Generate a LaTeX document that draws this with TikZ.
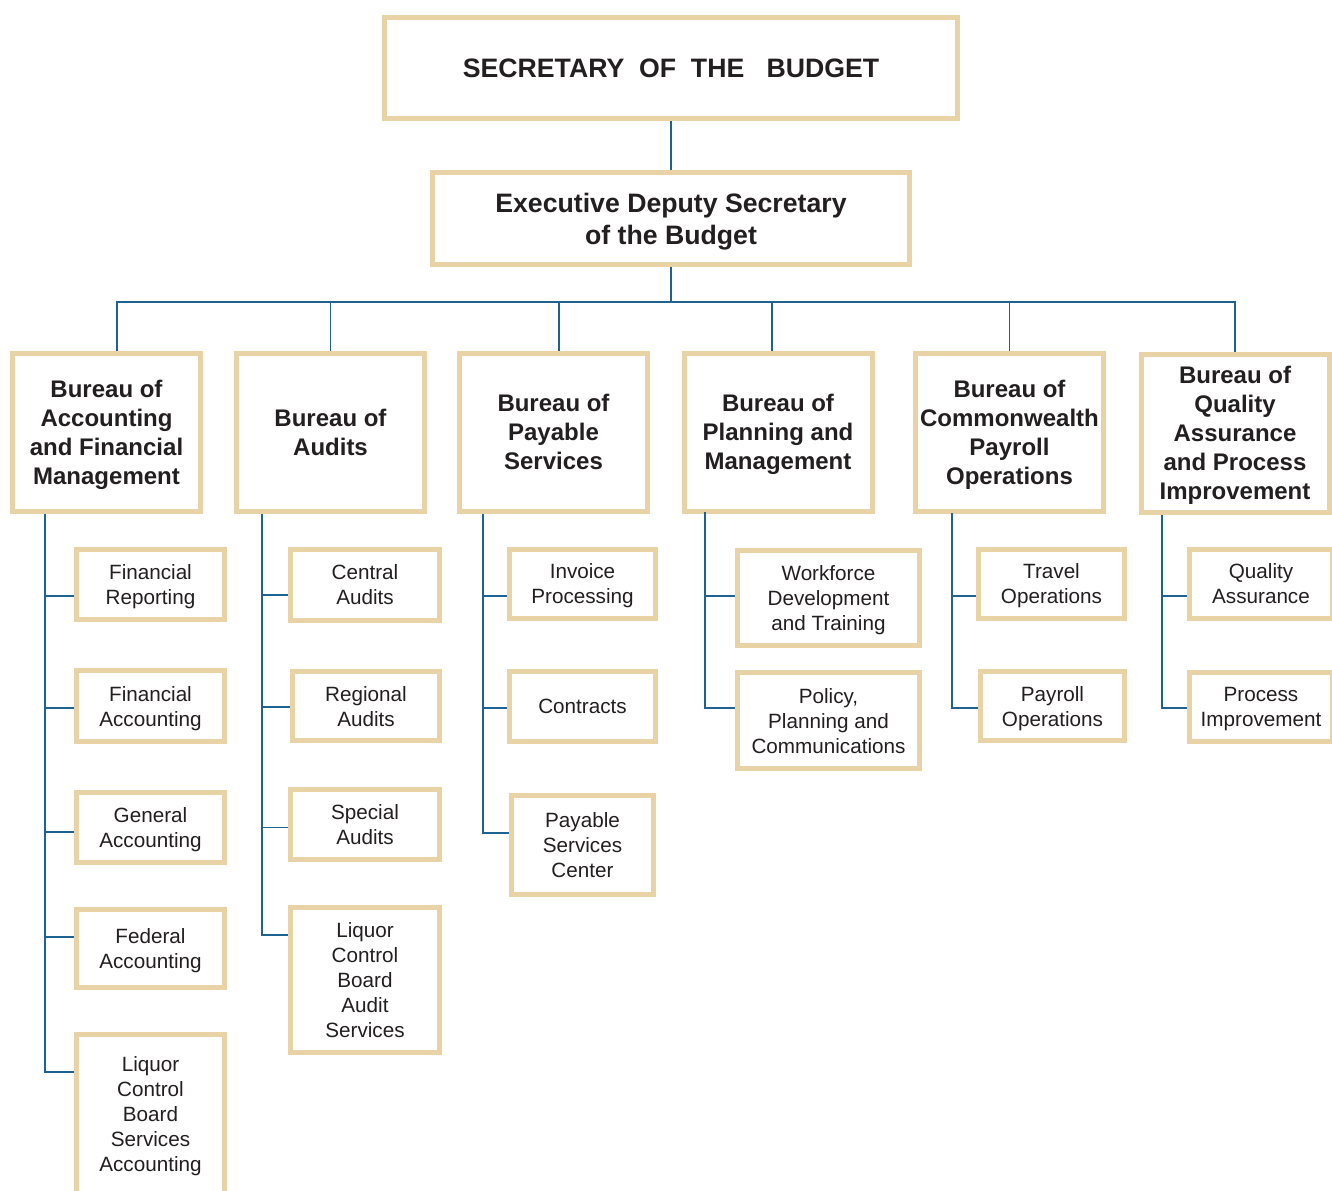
\documentclass[tikz,border=0pt]{standalone}
\usepackage{fontspec}
\setmainfont{Liberation Sans}
\usetikzlibrary{positioning}
\definecolor{wheat}{RGB}{233, 211, 166}
\definecolor{branchblue}{RGB}{30, 98, 146}
\definecolor{inkblack}{RGB}{35, 31, 32}

\begin{document}
\begin{tikzpicture}[x=0.75pt, y=-0.75pt,
        office/.style={draw=wheat, line width=3.75pt, fill=white, text=inkblack, align=center, inner sep=0pt, text depth=-1pt},
        bureau/.style={office, minimum width=141pt, minimum height=118.5pt, font=\fontsize{18}{21.75}\selectfont\bfseries},
        unit/.style={office, font=\fontsize{15.5}{18.75}\selectfont},
        link/.style={draw=branchblue, line width=1.1pt}]
            % Frame to fix the page size:
            \useasboundingbox                                             (0, 0) rectangle (1332, 1190);
            % Top of the chart:
            \node[office, minimum width=429.75pt, minimum height=75.75pt, text depth=-3pt, font=\fontsize{20}{24}\selectfont\bfseries]
                 (sec) at (671, 68)    {SECRETARY\ \ OF\ \ THE\ \ \ BUDGET};
            \node[office, minimum width=357.75pt, minimum height=69pt, font=\fontsize{20}{24}\selectfont\bfseries]
                 (eds) at (671, 218.5) {Executive Deputy Secretary\\of the Budget};
            % Bureaus:
            \node[bureau] (bafm) at ( 106.5, 432) {Bureau of\\Accounting\\and Financial\\Management};
            \node[bureau] (ba)   at ( 330.5, 432) {Bureau of\\Audits};
            \node[bureau] (bps)  at ( 553.5, 432) {Bureau of\\Payable\\Services};
            \node[bureau] (bpm)  at ( 778.0, 432) {Bureau of\\Planning and\\Management};
            \node[bureau] (bcpo) at (1009.5, 432) {Bureau of\\Commonwealth\\Payroll\\Operations};
            \node[bureau] (bqa)  at (1235.0, 433) {Bureau of\\Quality\\Assurance\\and Process\\Improvement};
            % Divisions:
            \node[unit, minimum width=111pt,    minimum height=52.5pt]   (fr)    at ( 150.5, 584.5) {Financial\\Reporting};
            \node[unit, minimum width=111pt,    minimum height=53.25pt]  (fa)    at ( 150.5, 706)   {Financial\\Accounting};
            \node[unit, minimum width=111pt,    minimum height=52.5pt]   (ga)    at ( 150.5, 827.5) {General\\Accounting};
            \node[unit, minimum width=111pt,    minimum height=58.5pt]   (fda)   at ( 150.5, 948.5) {Federal\\Accounting};
            \node[unit, minimum width=111pt,    minimum height=119.25pt] (lcbsa) at ( 150.5, 1114)  {Liquor\\Control\\Board\\Services\\Accounting};
            \node[unit, minimum width=111.75pt, minimum height=53.25pt]  (ca)    at ( 365,   585)   {Central\\Audits};
            \node[unit, minimum width=110.25pt, minimum height=51.75pt]  (ra)    at ( 366,   706)   {Regional\\Audits};
            \node[unit, minimum width=111.75pt, minimum height=52.5pt]   (sa)    at ( 365,   824.5) {Special\\Audits};
            \node[unit, minimum width=111.75pt, minimum height=108.75pt] (lcbas) at ( 365,   980)   {Liquor\\Control\\Board\\Audit\\Services};
            \node[unit, minimum width=109.5pt,  minimum height=51.75pt]  (ip)    at ( 582.5, 584)   {Invoice\\Processing};
            \node[unit, minimum width=109.5pt,  minimum height=52.5pt]   (ct)    at ( 582.5, 706.5) {Contracts};
            \node[unit, minimum width=106.5pt,  minimum height=74.25pt]  (psc)   at ( 582.5, 845)   {Payable\\Services\\Center};
            \node[unit, minimum width=136.5pt,  minimum height=71.25pt]  (wdt)   at ( 828.5, 598)   {Workforce\\Development\\and Training};
            \node[unit, minimum width=136.5pt,  minimum height=72pt]     (ppc)   at ( 828.5, 720.5) {Policy,\\Planning and\\Communications};
            \node[unit, minimum width=109.5pt,  minimum height=51.75pt]  (to)    at (1051.5, 584)   {Travel\\Operations};
            \node[unit, minimum width=108pt,    minimum height=51.75pt]  (po)    at (1052.5, 706)   {Payroll\\Operations};
            \node[unit, minimum width=107.25pt, minimum height=51.75pt]  (qa)    at (1261,   584)   {Quality\\Assurance};
            \node[unit, minimum width=107.25pt, minimum height=51.75pt]  (pi)    at (1261,   707)   {Process\\Improvement};
            % Lines from the top down to the bureaus:
            \draw[link] (sec) -- (eds);
            \draw[link] (eds.south) -- ++(0, 35) coordinate (bus);
            \draw[link] (bus) -| ([xshift=7.9pt]bafm.north);
            \draw[link] (bus) -| (ba.north);
            \draw[link] (bus) -| ([xshift=4pt]bps.north);
            \draw[link] (bus) -| ([xshift=-4.5pt]bpm.north);
            \draw[link] (bus) -| (bcpo.north);
            \draw[link] (bus) -| (bqa.north);
            % Lines from each bureau to its divisions:
            \coordinate (c1) at (  45, 514);
            \coordinate (c2) at ( 262, 514);
            \coordinate (c3) at ( 483, 514);
            \coordinate (c4) at ( 705, 512);
            \coordinate (c5) at ( 952, 513);
            \coordinate (c6) at (1162, 515);
            \draw[link] (c1) |- ([yshift=-8.6pt]fr.west);
            \draw[link] (c1) |- ([yshift=-1.5pt]fa.west);
            \draw[link] (c1) |- ([yshift=-3.4pt]ga.west);
            \draw[link] (c1) |- ([yshift=8.6pt]fda.west);
            \draw[link] (c1) |- ([yshift=31.5pt]lcbsa.west);
            \draw[link] (c2) |- ([yshift=-7.5pt]ca.west);
            \draw[link] (c2) |- ([yshift=-0.75pt]ra.west);
            \draw[link] (c2) |- ([yshift=-2.25pt]sa.west);
            \draw[link] (c2) |- ([yshift=33.75pt]lcbas.west);
            \draw[link] (c3) |- ([yshift=-9pt]ip.west);
            \draw[link] (c3) |- ([yshift=-1.1pt]ct.west);
            \draw[link] (c3) |- ([yshift=9pt]psc.west);
            \draw[link] (c4) |- ([yshift=1.5pt]wdt.west);
            \draw[link] (c4) |- ([yshift=9.4pt]ppc.west);
            \draw[link] (c5) |- ([yshift=-9pt]to.west);
            \draw[link] (c5) |- ([yshift=-1.5pt]po.west);
            \draw[link] (c6) |- ([yshift=-9pt]qa.west);
            \draw[link] (c6) |- ([yshift=-0.75pt]pi.west);
        \end{tikzpicture}
\end{document}
